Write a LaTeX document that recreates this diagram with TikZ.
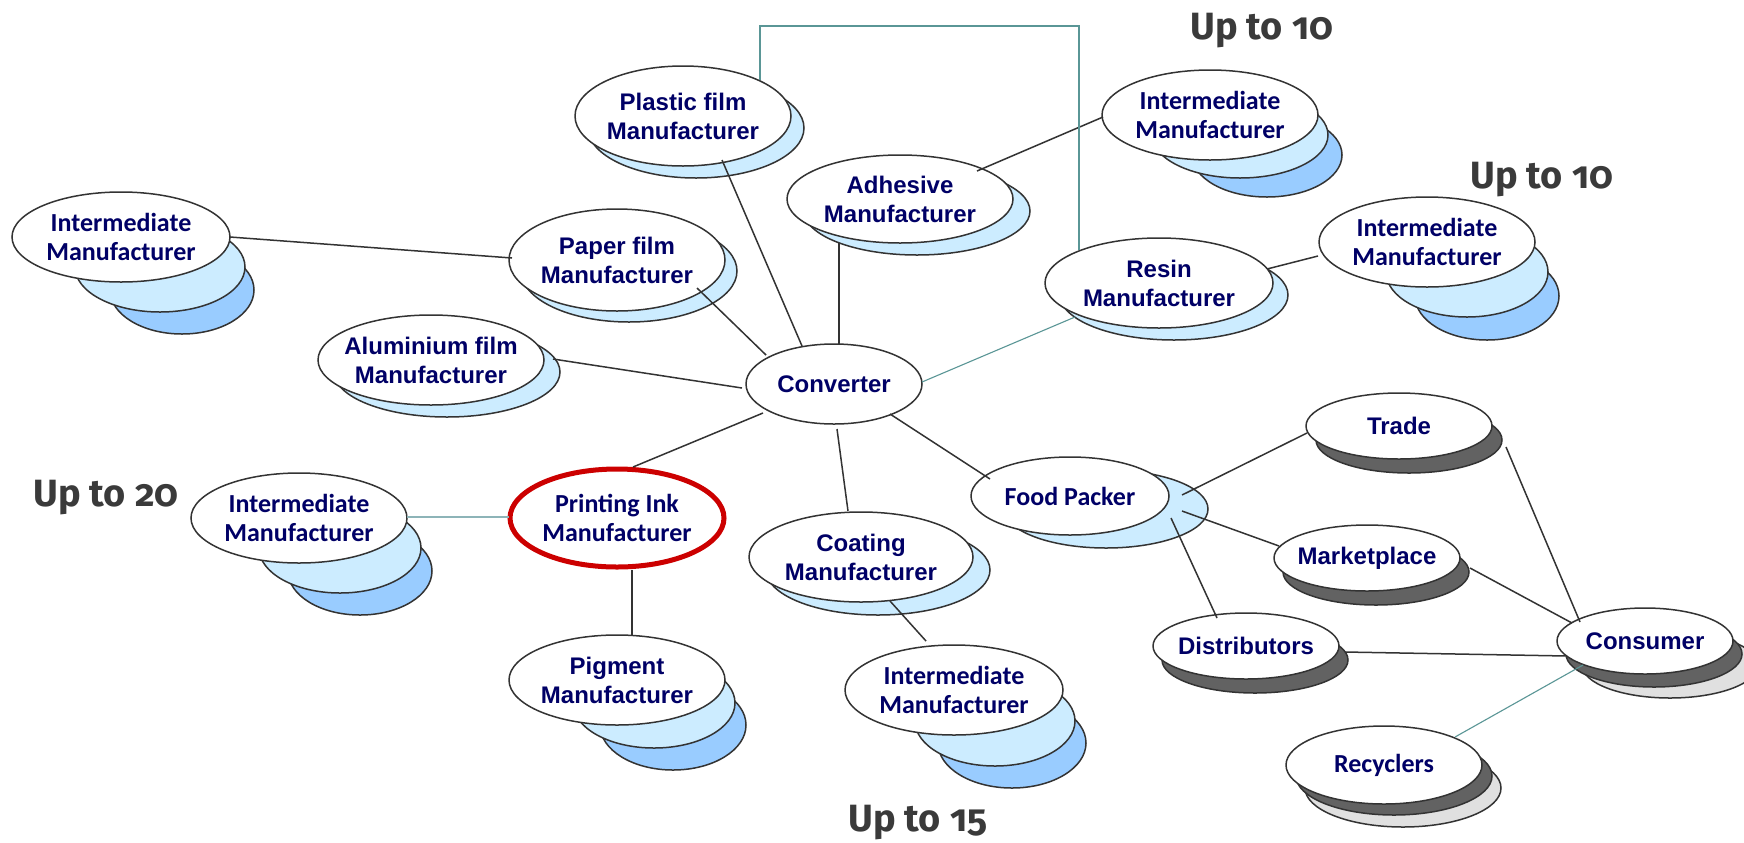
\documentclass[tikz,border=0pt]{standalone}
\usepackage{fontspec}
\usetikzlibrary{shapes.geometric,calc}
\newfontfamily\arialf{Liberation Sans}
\newfontfamily\calf{Carlito}
\newfontfamily\labf{Fira Sans}[Numbers=OldStyle]
\definecolor{navy}{HTML}{000066}
\definecolor{outl}{HTML}{333333}
\definecolor{lb}{HTML}{CCECFF}
\definecolor{bl}{HTML}{99CCFF}
\definecolor{dg}{HTML}{626262}
\definecolor{lg}{HTML}{E0E0E0}
\definecolor{tealc}{HTML}{5A9696}
\definecolor{gline}{HTML}{8DB4B8}
\definecolor{redc}{HTML}{CC0000}
\definecolor{labc}{HTML}{3A3A3A}
\pgfdeclarelayer{background}
\pgfsetlayers{background,main}
\tikzset{
  base/.style={ellipse, draw=outl, fill=white, line width=0.75pt, inner sep=-12pt, outer sep=0pt, text=navy, align=center},
  ar/.style={base, font=\arialf\bfseries\fontsize{12}{14.5}\selectfont},
  ca/.style={base, font=\calf\bfseries\fontsize{13}{14.5}\selectfont},
  sz/.style 2 args={minimum width=#1pt, minimum height=#2pt},
  conn/.style={draw=outl, line width=0.75pt},
  tline/.style={draw=tealc, line width=0.55pt},
  gconn/.style={draw=gline, line width=1pt},
  sh/.style={draw=outl, line width=0.75pt},
  lab/.style={anchor=base west, text=labc, font=\labf\bfseries\fontsize{19}{19}\selectfont, inner sep=0pt},
}
\newcommand\shd[6]{\path[sh, fill=#6] ($(#1)+(#2,#3)$) ellipse [x radius=#4, y radius=#5];}
\begin{document}
\begin{tikzpicture}[x=0.5pt, y=-0.5pt]
\useasboundingbox (0,0) rectangle (1744,842);
% nodes
\node[ca, sz={109}{45}] (A) at (121,237) {Intermediate\\Manufacturer};
\node[ca, sz={108}{45}] (B) at (1210,115) {Intermediate\\Manufacturer};
\node[ca, sz={108}{45}] (C) at (1427,242) {Intermediate\\Manufacturer};
\node[ca, sz={108}{45}] (D) at (299,518) {Intermediate\\Manufacturer};
\node[ar, sz={108}{45}] (pig) at (617,680) {Pigment\\Manufacturer};
\node[ca, sz={109}{45}] (F) at (954,690) {Intermediate\\Manufacturer};
\node[ar, sz={108}{50}] (plastic) at (683,116) {Plastic film\\Manufacturer};
\node[ar, sz={108}{51}] (paper) at (617,260) {Paper film\\Manufacturer};
\node[ar, sz={113}{45}] (alu) at (431,360) {Aluminium film\\Manufacturer};
\node[ar, sz={113}{44}] (adh) at (900,199) {Adhesive\\Manufacturer};
\node[ar, sz={114}{45}] (resin) at (1159,283) {Resin\\Manufacturer};
\node[ar, sz={88}{40}] (conv) at (834,384) {Converter};
\node[ca, sz={107}{49}, draw=redc, line width=2.5pt] (ink) at (617,518) {Printing Ink\\Manufacturer};
\node[ar, sz={112}{45}] (coat) at (861,557) {Coating\\Manufacturer};
\node[ca, sz={99}{39}] (food) at (1070,496) {Food Packer};
\node[ar, sz={93}{33}] (trade) at (1399,426) {Trade};
\node[ar, sz={93}{33}] (market) at (1367,558) {Marketplace};
\node[ar, sz={93}{33}] (distrib) at (1246,646) {Distributors};
\node[ar, sz={88}{33}] (cons) at (1645,641) {Consumer};
\node[ca, sz={98}{39}] (recyc) at (1384,765) {Recyclers};
% labels
\node[lab] (up1) at (1190,39) {Up to 10};
\node[lab] (up2) at (1470,188) {Up to 10};
\node[lab] (up3) at (33,506) {Up to 20};
\node[lab] (up4) at (848,831) {Up to 15};
% shadows
\begin{pgfonlayer}{background}
\fill[white] (0,0) rectangle (1744,842);
\shd{A}{61}{53}{72}{44}{bl}
\shd{B}{57}{40}{75}{42}{bl}
\shd{C}{60}{54}{72}{44}{bl}
\shd{D}{61}{53}{72}{44}{bl}
\shd{pig}{56}{45}{73}{45}{bl}
\shd{F}{58}{53}{74}{45}{bl}
\shd{cons}{25}{24}{88}{33}{lg}
\shd{recyc}{19}{23}{98}{39}{lg}
\shd{A}{39}{30}{85}{45}{lb}
\shd{B}{30}{20}{88}{43}{lb}
\shd{C}{40}{30}{81}{45}{lb}
\shd{D}{41}{30}{81}{45}{lb}
\shd{pig}{37}{23}{81}{45}{lb}
\shd{F}{41}{31}{80}{45}{lb}
\shd{plastic}{13}{12}{108}{50}{lb}
\shd{paper}{12}{11}{108}{51}{lb}
\shd{alu}{16}{12}{113}{45}{lb}
\shd{adh}{17}{12}{113}{44}{lb}
\shd{resin}{15}{12}{114}{45}{lb}
\shd{coat}{17}{13}{112}{45}{lb}
\shd{food}{36}{13}{102}{39}{lb}
\shd{trade}{10}{14}{93}{33}{dg}
\shd{market}{9}{14}{93}{33}{dg}
\shd{distrib}{9}{14}{93}{33}{dg}
\shd{cons}{9}{13}{88}{33}{dg}
\shd{recyc}{10}{11}{98}{39}{dg}
\end{pgfonlayer}
% connectors
\draw[conn] ($(A)+(109,0)$) -- ($(paper)+(-105,-2)$);
\draw[conn] ($(plastic)+(39,44)$) -- ($(conv)+(-32,-38)$);
\draw[conn] ($(paper)+(80,28)$) -- ($(conv)+(-68,-29)$);
\draw[conn] ($(adh)+(-61,44)$) -- ($(conv)+(5,-40)$);
\draw[conn] ($(alu)+(122,-1)$) -- ($(conv)+(-92,4)$);
\draw[conn] ($(adh)+(77,-28)$) -- ($(B)+(-107,2)$);
\draw[conn] ($(resin)+(108,-14)$) -- ($(C)+(-109,14)$);
\draw[tline] ($(plastic)+(77,-36)$) -- ++(0,-54) -| ($(resin)+(-80,-33)$);
\draw[tline] ($(conv)+(88,-2)$) -- ($(resin)+(-84,34)$);
\draw[conn] ($(conv)+(-71,29)$) -- ($(ink)+(16,-51)$);
\draw[conn] ($(conv)+(3,45)$) -- ($(coat)+(-13,-46)$);
\draw[conn] ($(conv)+(56,30)$) -- ($(food)+(-80,-17)$);
\draw[gconn] ($(D)+(108,-1)$) -- ($(ink)+(-108,-1)$);
\draw[conn] ($(ink)+(15,52)$) -- ($(pig)+(15,-44)$);
\draw[conn] ($(coat)+(29,44)$) -- ($(F)+(-28,-49)$);
\draw[conn] ($(food)+(112,-1)$) -- ($(trade)+(-92,7)$);
\draw[conn] ($(food)+(112,15)$) -- ($(market)+(-88,-12)$);
\draw[conn] ($(food)+(101,22)$) -- ($(distrib)+(-29,-28)$);
\draw[conn] ($(trade)+(107,21)$) -- ($(cons)+(-65,-19)$);
\draw[conn] ($(market)+(103,10)$) -- ($(cons)+(-73,-18)$);
\draw[conn] ($(distrib)+(99,6)$) -- ($(cons)+(-78,15)$);
\draw[tline] ($(cons)+(-62,24)$) -- ($(recyc)+(71,-28)$);
\end{tikzpicture}
\end{document}
